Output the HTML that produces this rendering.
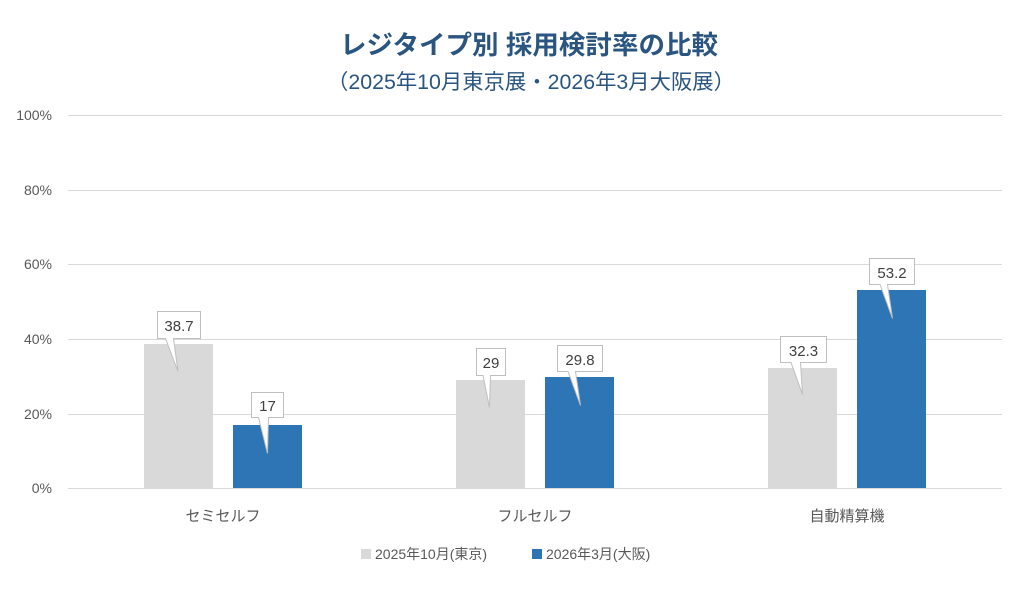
<!DOCTYPE html>
<html><head><meta charset="utf-8"><style>
body{margin:0;background:#fff}
text{font-family:"Liberation Sans","Noto Sans CJK JP",sans-serif}
</style></head><body>
<svg width="1024" height="585" xmlns="http://www.w3.org/2000/svg">
<rect width="1024" height="585" fill="#fff"/>
<text x="340" y="54" font-size="26" font-weight="bold" fill="#2a5580" textLength="378" lengthAdjust="spacingAndGlyphs">レジタイプ別  採用検討率の比較</text>
<text x="327" y="89" font-size="21" fill="#2a5580" textLength="408" lengthAdjust="spacingAndGlyphs">（2025年10月東京展・2026年3月大阪展）</text>
<g stroke="#d9d9d9" stroke-width="1">
<line x1="68" x2="1002" y1="115.5" y2="115.5"/><line x1="68" x2="1002" y1="190.5" y2="190.5"/>
<line x1="68" x2="1002" y1="264.5" y2="264.5"/><line x1="68" x2="1002" y1="339.5" y2="339.5"/>
<line x1="68" x2="1002" y1="414.5" y2="414.5"/><line x1="68" x2="1002" y1="488.5" y2="488.5"/>
</g>
<g font-size="14" fill="#595959" text-anchor="end">
<text x="52" y="120">100%</text><text x="52" y="195">80%</text><text x="52" y="269">60%</text>
<text x="52" y="344">40%</text><text x="52" y="419">20%</text><text x="52" y="493">0%</text>
</g>
<g fill="#d9d9d9"><rect x="144" y="344" width="69" height="144"/><rect x="456" y="380" width="69" height="108"/><rect x="768" y="368" width="69" height="120"/></g>
<g fill="#2e75b6"><rect x="233" y="425" width="69" height="63"/><rect x="545" y="377" width="69" height="111"/><rect x="857" y="290" width="69" height="198"/></g>
<g fill="#fff" stroke="#bfbfbf" stroke-width="1">
<path d="M157.5 311.5h43v27h-27l4.5 33l-12.5-33h-8z"/>
<path d="M251.5 392.5h32v25h-15l-1 36l-9-36h-7z"/>
<path d="M476.5 348.5h29v27h-15l-1 32l-6.5-32h-6.5z"/>
<path d="M557.5 345.5h45v26h-27l5 34l-12.5-34h-10.5z"/>
<path d="M780.5 336.5h46v26h-26l2 32l-11.5-32h-10.5z"/>
<path d="M869.5 258.5h45v26h-27l5 34l-12.5-34h-10.5z"/>
</g>
<g font-size="15" fill="#404040" text-anchor="middle">
<text x="179" y="331">38.7</text><text x="267.5" y="411">17</text><text x="491" y="368">29</text>
<text x="580" y="365">29.8</text><text x="803.5" y="356">32.3</text><text x="892" y="278">53.2</text>
</g>
<g font-size="15" fill="#595959" text-anchor="middle">
<text x="223" y="521">セミセルフ</text><text x="535" y="521">フルセルフ</text><text x="847" y="521">自動精算機</text>
</g>
<rect x="361" y="549" width="10" height="10" fill="#d9d9d9"/>
<text x="375" y="559" font-size="14" fill="#595959">2025年10月(東京)</text>
<rect x="532" y="549" width="10" height="10" fill="#2e75b6"/>
<text x="546" y="559" font-size="14" fill="#595959">2026年3月(大阪)</text>
</svg>
</body></html>
